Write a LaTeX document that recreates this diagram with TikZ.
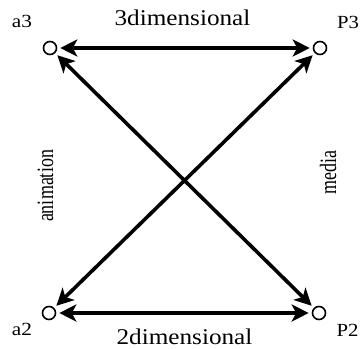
\documentclass[tikz,border=0pt]{standalone}
\usepackage{fontspec}
\setmainfont{Liberation Serif}
\usetikzlibrary{arrows.meta}
\tikzset{
  pt/.style={circle,draw,line width=1.6pt,minimum size=13pt,inner sep=0pt,fill=white},
  corner/.style={anchor=base,inner sep=0pt,font=\fontsize{18.5}{20}\selectfont},
  title/.style={anchor=base,inner sep=0pt,font=\fontsize{22.5}{24}\selectfont},
  side/.style={rotate=90,inner sep=0pt,font=\fontsize{18}{20}\selectfont},
  link/.style={line width=3.6pt,{Stealth[length=17pt,width=17pt,inset=4.5pt]}-{Stealth[length=17pt,width=17pt,inset=4.5pt]},shorten <=3pt,shorten >=3pt}
}
\begin{document}
\begin{tikzpicture}[x=1pt,y=-1pt]
\useasboundingbox (0,0) rectangle (360,349);
\node[pt] (a3) at (50,48) {};
\node[pt] (p3) at (320,48) {};
\node[pt] (a2) at (49,313) {};
\node[pt] (p2) at (319,313) {};
\draw[link] (a3) -- (p3);
\draw[link] (a2) -- (p2);
\draw[link] (a3) -- (p2);
\draw[link] (p3) -- (a2);
\node[corner] (la3) at (22,27) {\scalebox{1.15}[1]{a3}};
\node[corner] (lp3) at (348,28) {\scalebox{1.12}[1]{P3}};
\node[corner] (la2) at (22,335) {\scalebox{1.15}[1]{a2}};
\node[corner] (lp2) at (347.5,336) {\scalebox{1.12}[1]{P2}};
\node[title] (t3) at (182.5,25) {\scalebox{1.12}[1]{3dimensional}};
\node[title] (t2) at (184.5,344) {\scalebox{1.12}[1]{2dimensional}};
\node[side] (anim) at (45.5,186) {\scalebox{1}[1.3]{animation}};
\node[side] (med) at (328,173) {\scalebox{1}[1.3]{media}};
\end{tikzpicture}
\end{document}
